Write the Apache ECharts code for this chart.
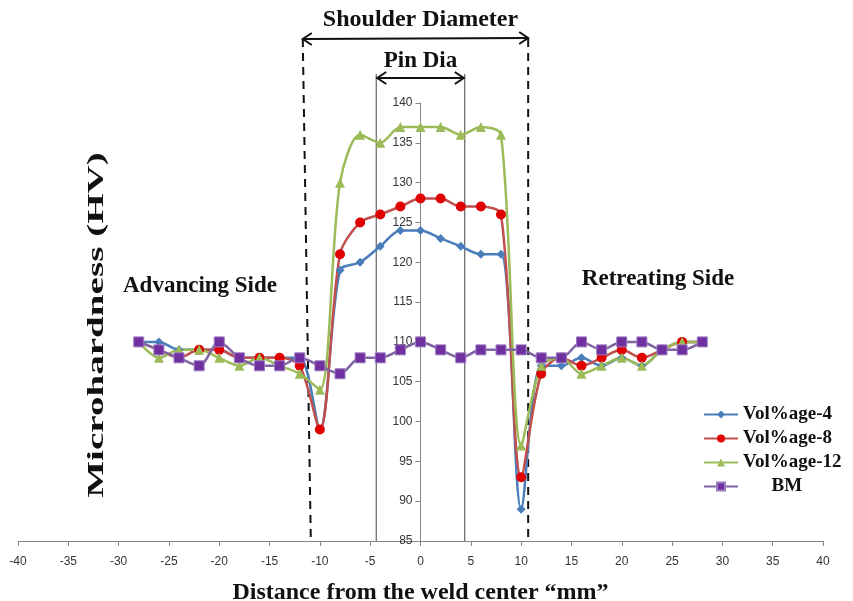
<!DOCTYPE html>
<html>
<head>
<meta charset="utf-8">
<script src="https://cdn.jsdelivr.net/npm/echarts@6/dist/echarts.min.js"></script>
<style>
html, body { margin: 0; padding: 0; background: #fff; }
#main { width: 853px; height: 601px; }
</style>
</head>
<body>
<div id="main"></div>
<script>
// distance from weld center (mm)
var distance = [-28, -26, -24, -22, -20, -18, -16, -14, -12, -10, -8, -6, -4, -2, 0,
  2, 4, 6, 8, 10, 12, 14, 16, 18, 20, 22, 24, 26, 28];

var vol4 = [110, 110, 109, 109, 109, 108, 108, 108, 108, 99, 119, 120, 122, 124, 124,
  123, 122, 121, 121, 89, 107, 107, 108, 107, 108, 107, 109, 110, 110];
var vol8 = [110, 109, 108, 109, 109, 108, 108, 108, 107, 99, 121, 125, 126, 127, 128,
  128, 127, 127, 126, 93, 106, 108, 107, 108, 109, 108, 109, 110, 110];
var vol12 = [110, 108, 109, 109, 108, 107, 108, 107, 106, 104, 130, 136, 135, 137, 137,
  137, 136, 137, 136, 97, 107, 108, 106, 107, 108, 107, 109, 110, 110];
var bm = [110, 109, 108, 107, 110, 108, 107, 107, 108, 107, 106, 108, 108, 109, 110,
  109, 108, 109, 109, 109, 108, 108, 110, 109, 110, 110, 109, 109, 110];

var seriesNames = ['Vol%age-4', 'Vol%age-8', 'Vol%age-12', 'BM'];

// annotation positions (mm): shoulder edges at top / bottom, pin edges
var shoulderTop = [-11.7, 10.7];
var shoulderBottom = [-10.9, 10.7];
var pinEdges = [-4.4, 4.4];

var serif = '"Liberation Serif", "DejaVu Serif", serif';

function pairs(ys) {
  return distance.map(function (x, i) { return [x, ys[i]]; });
}

var chart = echarts.init(document.getElementById('main'));

var gridLeft = 18, gridRight = 30;
var plotW = 853 - gridLeft - gridRight;

var option = {
  animation: false,
  grid: { left: gridLeft, right: gridRight, top: 103, bottom: 60, containLabel: false, outerBoundsMode: 'none' },
  legend: {
    orient: 'vertical',
    left: 698,
    top: 400,
    itemWidth: 34,
    itemHeight: 10,
    itemGap: 5,
    data: seriesNames,
    formatter: function (name) { return name === 'BM' ? '      BM' : name; },
    textStyle: { fontFamily: serif, fontWeight: 'bold', fontSize: 19, color: '#111' }
  },
  xAxis: {
    type: 'value',
    min: -40,
    max: 40,
    interval: 5,
    name: 'Distance from the weld center \u201cmm\u201d',
    nameLocation: 'middle',
    nameGap: 40,
    nameTextStyle: { fontFamily: serif, fontWeight: 'bold', fontSize: 24, color: '#111' },
    splitLine: { show: false },
    axisLine: { lineStyle: { color: '#868686' } },
    axisTick: { length: 5, lineStyle: { color: '#868686' } },
    axisLabel: { color: '#333', fontSize: 12, margin: 15, fontFamily: '"Liberation Sans Narrow", "Liberation Sans", sans-serif' }
  },
  yAxis: {
    type: 'value',
    min: 85,
    max: 140,
    interval: 5,
    position: 'left',
    offset: -plotW / 2,
    splitLine: { show: false },
    axisLine: { show: true, onZero: false, lineStyle: { color: '#868686' } },
    axisTick: { show: true, length: 5, lineStyle: { color: '#868686' } },
    axisLabel: { color: '#333', fontSize: 12, margin: 8, fontFamily: '"Liberation Sans", sans-serif' }
  },
  series: [
    {
      name: 'Vol%age-4', type: 'line', smooth: 0.3, data: pairs(vol4),
      symbol: 'diamond', symbolSize: 9,
      lineStyle: { color: '#4A7EBB', width: 2.5 },
      itemStyle: { color: '#4A7EBB' }
    },
    {
      name: 'Vol%age-8', type: 'line', smooth: 0.3, data: pairs(vol8),
      symbol: 'circle', symbolSize: 10,
      lineStyle: { color: '#C0504D', width: 2.5 },
      itemStyle: { color: '#E00000' }
    },
    {
      name: 'Vol%age-12', type: 'line', smooth: 0.3, data: pairs(vol12),
      symbol: 'triangle', symbolSize: 10,
      lineStyle: { color: '#9BBB59', width: 2.5 },
      itemStyle: { color: '#9BBB59' }
    },
    {
      name: 'BM', type: 'line', smooth: 0.3, data: pairs(bm),
      symbol: 'rect', symbolSize: 10,
      lineStyle: { color: '#8064A2', width: 2.5 },
      itemStyle: { color: '#7030A0', borderColor: '#9A7CC0', borderWidth: 1 }
    }
  ]
};

chart.setOption(option);

// annotations placed with the chart's own scales
function px(x, y) { return chart.convertToPixel({ gridIndex: 0 }, [x, y]); }

var bottomY = px(0, 85)[1];
var shoulderArrowY = 39;
var pinArrowY = 78;

function arrowHead(x, y, dir) {
  return {
    type: 'polyline',
    shape: { points: [[x + dir * 9, y - 6], [x, y], [x + dir * 9, y + 6]] },
    style: { stroke: '#111', lineWidth: 2, fill: null }
  };
}

var g = [];
// shoulder dashed lines
for (var i = 0; i < 2; i++) {
  var xt = px(shoulderTop[i], 85)[0];
  var xb = px(shoulderBottom[i], 85)[0];
  g.push({
    type: 'line',
    shape: { x1: xt, y1: shoulderArrowY, x2: xb, y2: bottomY },
    style: { stroke: '#111', lineWidth: 2, lineDash: [8, 6] }
  });
}
// pin solid lines
for (var j = 0; j < 2; j++) {
  var xp = px(pinEdges[j], 85)[0];
  g.push({
    type: 'line',
    shape: { x1: xp, y1: pinArrowY - 4, x2: xp, y2: bottomY },
    style: { stroke: '#444', lineWidth: 1 }
  });
}
var sL = px(shoulderTop[0], 85)[0], sR = px(shoulderTop[1], 85)[0];
var pL = px(pinEdges[0], 85)[0], pR = px(pinEdges[1], 85)[0];
g.push({ type: 'line', shape: { x1: sL, y1: shoulderArrowY, x2: sR, y2: shoulderArrowY - 1 }, style: { stroke: '#111', lineWidth: 2 } });
g.push(arrowHead(sL, shoulderArrowY, 1), arrowHead(sR, shoulderArrowY - 1, -1));
g.push({ type: 'line', shape: { x1: pL + 1, y1: pinArrowY, x2: pR - 1, y2: pinArrowY }, style: { stroke: '#111', lineWidth: 2 } });
g.push(arrowHead(pL + 1, pinArrowY, 1), arrowHead(pR - 1, pinArrowY, -1));

var center = px(0, 85)[0];
function label(text, x, y, size) {
  return {
    type: 'text', x: x, y: y,
    style: { text: text, fontFamily: serif, fontWeight: 'bold', fontSize: size, fill: '#111', align: 'center', verticalAlign: 'middle' }
  };
}
g.push(label('Shoulder Diameter', center, 20, 24));
g.push(label('Pin Dia', center, 61, 23));
g.push(label('Advancing Side', 200, 286, 23));
g.push(label('Retreating Side', 658, 279, 23));
g.push({
  type: 'text', x: 97, y: 325, rotation: Math.PI / 2,
  scaleX: 1.7,
  style: { text: 'Microhardness (HV)', fontFamily: serif, fontWeight: 'bold', fontSize: 23, fill: '#111', align: 'center', verticalAlign: 'middle' }
});

chart.setOption({ graphic: g });
</script>
</body>
</html>
